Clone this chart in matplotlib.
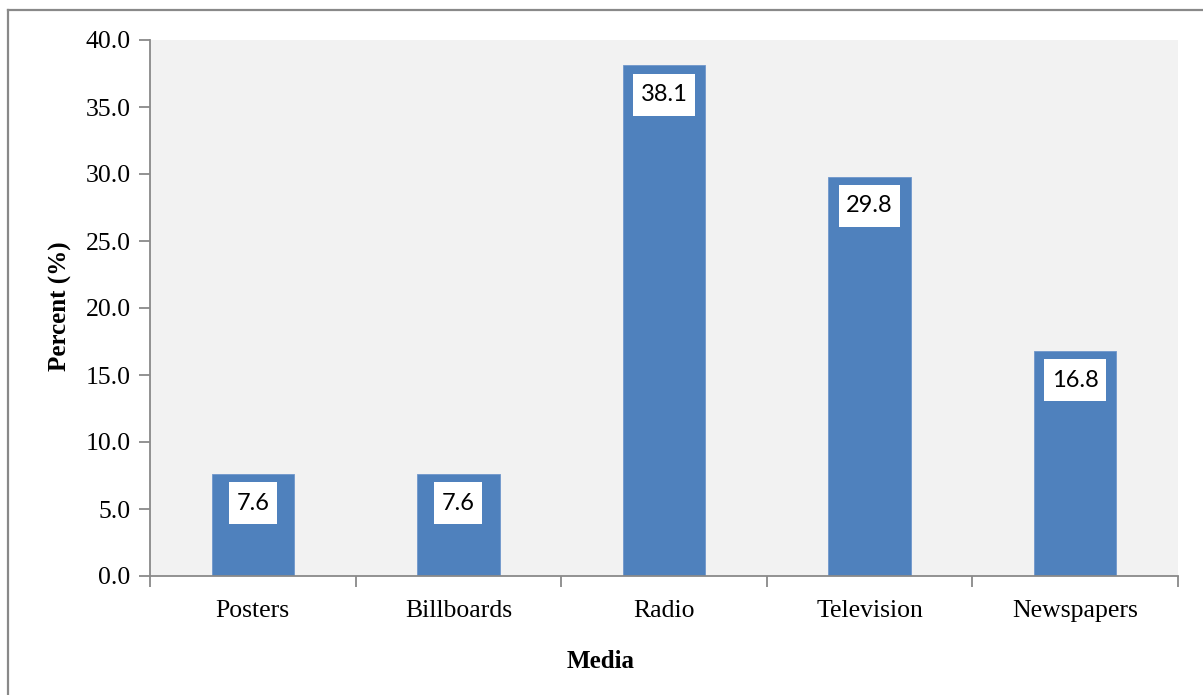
import matplotlib
matplotlib.use("Agg")
import matplotlib.pyplot as plt
from matplotlib.lines import Line2D
from matplotlib.path import Path
import numpy as np

media = ["Posters", "Billboards", "Radio", "Television", "Newspapers"]
percent = [7.6, 7.6, 38.1, 29.8, 16.8]
y_ticks = [0, 5, 10, 15, 20, 25, 30, 35, 40]

BAR = "#4f81bd"
SPINE = "#898989"
serif = "Liberation Serif"


def label_box(x0, y0, width, height, mutation_size):
    """Rectangle with separate horizontal and vertical padding."""
    px = 0.32 * mutation_size
    py = 0.44 * mutation_size
    x0, y0 = x0 - px, y0 - py
    x1, y1 = x0 + width + 2 * px, y0 + height + 2 * py
    return Path([(x0, y0), (x1, y0), (x1, y1), (x0, y1), (x0, y0)],
                closed=True)


fig = plt.figure(figsize=(12.03, 6.95), dpi=100)
fig.patch.set_facecolor("white")

# outer frame of the chart object (top and left edges visible)
W, H = 1203, 695
fig.add_artist(Line2D([8 / W, 8 / W], [0, 1 - 10 / H], color=SPINE, lw=1.6,
                      transform=fig.transFigure))
fig.add_artist(Line2D([8 / W, 1], [1 - 10 / H, 1 - 10 / H], color=SPINE, lw=1.6,
                      transform=fig.transFigure))

ax = fig.add_axes([150 / W, 119 / H, 1028 / W, 536 / H])
ax.set_facecolor("#f2f2f2")

x = np.arange(len(media))
bars = ax.bar(x, percent, width=0.4, color=BAR, edgecolor="#6f97cc",
              linewidth=0.6, zorder=2)

for xi, v in zip(x, percent):
    ax.annotate(f"{v:.1f}", xy=(xi, v), xytext=(0, -21),
                textcoords="offset points", ha="center", va="center",
                fontsize=17, family="Lato", color="black", zorder=3,
                bbox=dict(boxstyle=label_box, fc="white", ec="none"))

ax.set_xlim(-0.5, len(media) - 0.5)
ax.set_ylim(0, 40)
ax.set_yticks(y_ticks)
ax.set_yticklabels([f"{t:.1f}" for t in y_ticks], family=serif, fontsize=18.5)

# category labels centred, ticks on category boundaries
ax.set_xticks(np.arange(-0.5, len(media), 1.0))
ax.set_xticklabels([])
ax.set_xticks(x, minor=True)
ax.set_xticklabels(media, minor=True, family=serif, fontsize=18.5)
ax.tick_params(axis="x", which="minor", length=0, pad=17)
ax.tick_params(axis="x", which="major", length=8, width=1.3, color=SPINE,
               direction="out")
ax.tick_params(axis="y", length=8, width=1.3, color=SPINE, direction="out",
               pad=6)

for s in ["top", "right"]:
    ax.spines[s].set_visible(False)
for s in ["left", "bottom"]:
    ax.spines[s].set_color(SPINE)
    ax.spines[s].set_linewidth(1.3)

fig.text(60 / W, 1 - 306 / H, "Percent (%)", rotation=90, ha="center",
         va="center", family=serif, fontweight="bold", fontsize=18)
fig.text(601 / W, 1 - 662 / H, "Media", ha="center", va="center",
         family=serif, fontweight="bold", fontsize=18)

fig.savefig("out.png", dpi=100)
